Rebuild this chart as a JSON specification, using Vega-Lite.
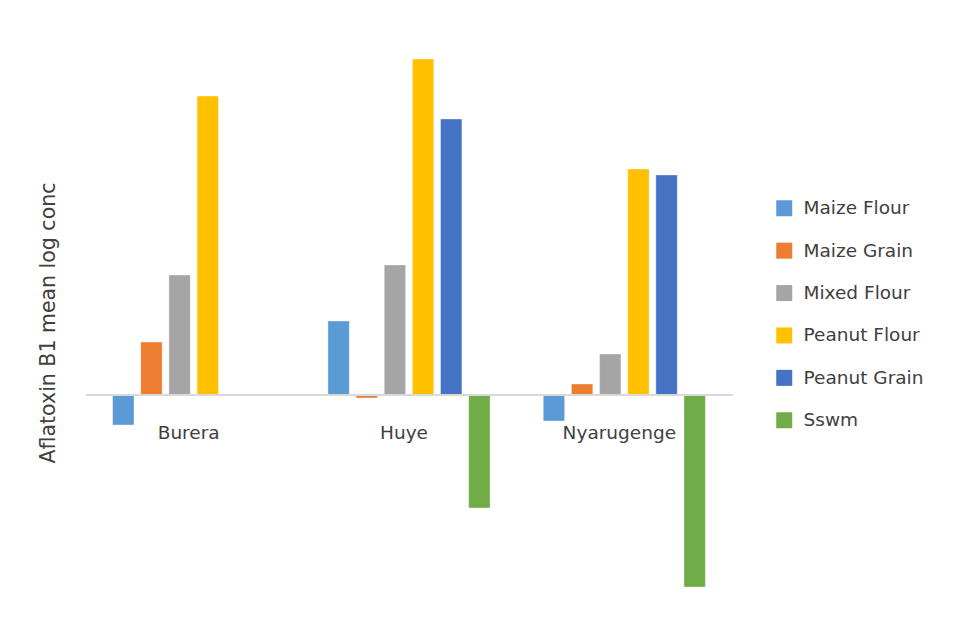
{
  "$schema": "https://vega.github.io/schema/vega-lite/v6.json",
  "autosize": "none",
  "width": 646,
  "height": 555,
  "padding": {"left": 86, "top": 45, "right": 230, "bottom": 17},
  "background": "white",
  "config": {
    "view": {"stroke": null},
    "font": "DejaVu Sans"
  },
  "data": {
    "values": [
      {"district": "Burera", "product": "Maize Flour", "logConc": -0.30},
      {"district": "Burera", "product": "Maize Grain", "logConc": 0.53},
      {"district": "Burera", "product": "Mixed Flour", "logConc": 1.20},
      {"district": "Burera", "product": "Peanut Flour", "logConc": 2.99},
      {"district": "Huye", "product": "Maize Flour", "logConc": 0.74},
      {"district": "Huye", "product": "Maize Grain", "logConc": -0.03},
      {"district": "Huye", "product": "Mixed Flour", "logConc": 1.30},
      {"district": "Huye", "product": "Peanut Flour", "logConc": 3.36},
      {"district": "Huye", "product": "Peanut Grain", "logConc": 2.76},
      {"district": "Huye", "product": "Sswm", "logConc": -1.13},
      {"district": "Nyarugenge", "product": "Maize Flour", "logConc": -0.26},
      {"district": "Nyarugenge", "product": "Maize Grain", "logConc": 0.11},
      {"district": "Nyarugenge", "product": "Mixed Flour", "logConc": 0.41},
      {"district": "Nyarugenge", "product": "Peanut Flour", "logConc": 2.26},
      {"district": "Nyarugenge", "product": "Peanut Grain", "logConc": 2.20},
      {"district": "Nyarugenge", "product": "Sswm", "logConc": -1.92}
    ]
  },
  "encoding": {
    "x": {
      "field": "district",
      "type": "nominal",
      "sort": ["Burera", "Huye", "Nyarugenge"],
      "scale": {"paddingInner": 0.234, "paddingOuter": 0.117},
      "axis": null
    }
  },
  "layer": [
    {
      "mark": {"type": "bar", "stroke": "white", "strokeWidth": 0.6, "strokeOpacity": 0.6},
      "encoding": {
        "xOffset": {
          "field": "product",
          "type": "nominal",
          "scale": {
            "domain": ["Maize Flour", "Maize Grain", "Mixed Flour", "Peanut Flour", "Peanut Grain", "Sswm"],
            "paddingInner": 0.24,
            "paddingOuter": 0.05
          }
        },
        "y": {
          "field": "logConc",
          "type": "quantitative",
          "scale": {"domain": [-2.05, 3.5], "nice": false, "zero": true},
          "axis": {
            "title": "Aflatoxin B1 mean log conc",
            "titleFont": "DejaVu Sans",
            "titleFontSize": 20.5,
            "titleFontWeight": "normal",
            "titleColor": "#404040",
            "titlePadding": 28,
            "labels": false,
            "ticks": false,
            "domain": false,
            "grid": false
          }
        },
        "color": {
          "field": "product",
          "type": "nominal",
          "scale": {
            "domain": ["Maize Flour", "Maize Grain", "Mixed Flour", "Peanut Flour", "Peanut Grain", "Sswm"],
            "range": ["#5B9BD5", "#ED7D31", "#A5A5A5", "#FFC000", "#4472C4", "#70AD47"]
          },
          "legend": {
            "title": null,
            "orient": "none",
            "legendX": 689,
            "legendY": 154,
            "symbolType": "square",
            "symbolSize": 256,
            "symbolStrokeWidth": 0,
            "labelFont": "DejaVu Sans",
            "labelFontSize": 18.5,
            "labelColor": "#404040",
            "labelOffset": 10,
            "rowPadding": 23.4
          }
        }
      }
    },
    {
      "mark": {"type": "rule", "color": "#d9d9d9", "strokeWidth": 2},
      "encoding": {
        "y": {"datum": 0, "type": "quantitative"},
        "x": {"value": 0},
        "x2": {"value": 647}
      }
    },
    {
      "transform": [{"filter": "datum.product === 'Maize Flour'"}],
      "mark": {"type": "text", "font": "DejaVu Sans", "fontSize": 18.5, "color": "#404040", "baseline": "middle", "dy": 38, "dx": -5},
      "encoding": {
        "text": {"field": "district"},
        "y": {"datum": 0, "type": "quantitative"}
      }
    }
  ]
}
